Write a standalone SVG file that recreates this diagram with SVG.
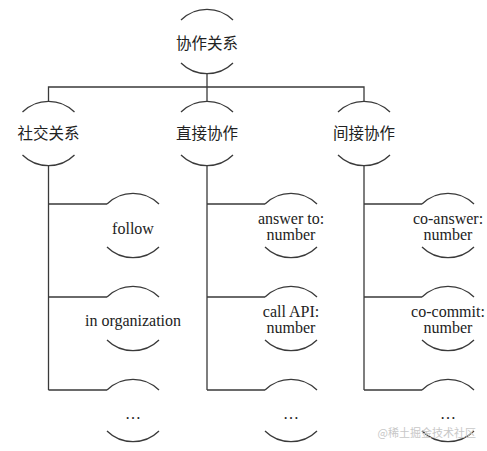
<svg xmlns="http://www.w3.org/2000/svg" xmlns:xlink="http://www.w3.org/1999/xlink" width="487" height="451" viewBox="0 0 487 451">
<style>
.ln{fill:none;stroke:#3a3a3a;stroke-width:1.3}
.zh{font-family:"Liberation Serif","Noto Sans CJK SC",serif;font-size:15.5px;fill:#222;text-anchor:middle;dominant-baseline:central}
.en{font-family:"Liberation Serif",serif;font-size:16px;fill:#222;text-anchor:middle;dominant-baseline:central}
.wm{font-family:"Noto Sans CJK SC",sans-serif;font-size:11px;fill:#c8c8c8;text-anchor:end;dominant-baseline:central}
</style>
<defs>
<path id="ta" class="ln" d="M-26,0 A37,37 0 0 1 26,0"/>
<path id="ba" class="ln" d="M-26,0 A37,37 0 0 0 26,0"/>
</defs>
<rect width="487" height="451" fill="#fff"/>
<g id="connectors" class="ln">
<path d="M207,73 V87 M48.5,101 V87 H364 V101 M207,87 V101"/>
<path d="M48.5,166 V390 M48.5,204 H107 M48.5,297 H107 M48.5,390 H107"/>
<path d="M207,166 V390 M207,204 H265 M207,297 H265 M207,390 H265"/>
<path d="M364,166 V390 M364,204 H422 M364,297 H422 M364,390 H422"/>
</g>
<g id="n-root"><use href="#ta" x="207" y="20"/><use href="#ba" x="207" y="63"/><text class="zh" x="207" y="43">协作关系</text></g>
<g id="n-social"><use href="#ta" x="48.5" y="112"/><use href="#ba" x="48.5" y="155"/><text class="zh" x="48.5" y="133">社交关系</text></g>
<g id="n-direct"><use href="#ta" x="207" y="112"/><use href="#ba" x="207" y="155"/><text class="zh" x="207" y="133">直接协作</text></g>
<g id="n-indirect"><use href="#ta" x="364" y="112"/><use href="#ba" x="364" y="155"/><text class="zh" x="364" y="133">间接协作</text></g>

<g id="n-follow"><use href="#ta" x="133" y="204"/><use href="#ba" x="133" y="247"/><text class="en" x="133" y="228">follow</text></g>
<g id="n-org"><use href="#ta" x="133" y="297"/><use href="#ba" x="133" y="340"/><text class="en" x="133" y="320">in organization</text></g>
<g id="n-s3"><use href="#ta" x="133" y="390"/><use href="#ba" x="133" y="431"/><text class="en" x="133" y="413">…</text></g>

<g id="n-answer"><use href="#ta" x="291" y="204"/><use href="#ba" x="291" y="247"/><text class="en" x="291" y="218">answer to:</text><text class="en" x="291" y="234">number</text></g>
<g id="n-callapi"><use href="#ta" x="291" y="297"/><use href="#ba" x="291" y="340"/><text class="en" x="291" y="311">call API:</text><text class="en" x="291" y="327">number</text></g>
<g id="n-d3"><use href="#ta" x="291" y="390"/><use href="#ba" x="291" y="431"/><text class="en" x="291" y="413">…</text></g>

<g id="n-coanswer"><use href="#ta" x="448" y="204"/><use href="#ba" x="448" y="247"/><text class="en" x="448" y="218">co-answer:</text><text class="en" x="448" y="234">number</text></g>
<g id="n-cocommit"><use href="#ta" x="448" y="297"/><use href="#ba" x="448" y="340"/><text class="en" x="448" y="311">co-commit:</text><text class="en" x="448" y="327">number</text></g>
<g id="n-i3"><use href="#ta" x="448" y="390"/><use href="#ba" x="448" y="431"/><text class="en" x="448" y="413">…</text></g>

<text class="wm" x="476" y="432">@稀土掘金技术社区</text>
</svg>
